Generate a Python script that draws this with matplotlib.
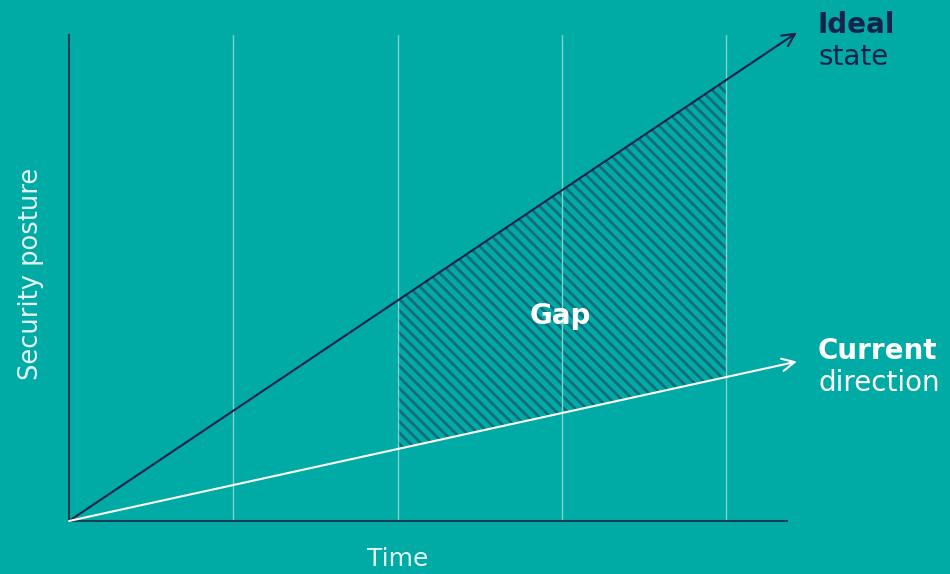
import matplotlib
matplotlib.use("Agg")
import matplotlib.pyplot as plt

plt.rcParams['font.family'] = ['DejaVu Sans']
plt.rcParams['hatch.linewidth'] = 2.0

# data
time_end = 4.43
ideal = [0, 10.05]
current = [0, 3.28]
grid_x = [1, 2, 3, 4]
gap_x = [2, 4]

bg = '#00aba5'
navy = '#15234b'
light = '#e3f4f2'
hatch_col = '#146b7b'

fig = plt.figure(figsize=(9.5, 5.74), dpi=100, facecolor=bg)
ax = fig.add_axes([69/950, 53/574, 718/950, 486/574], facecolor=bg)
ax.set_xlim(0, 4.37)
ax.set_ylim(0, 10)

ideal_slope = ideal[1] / time_end
cur_slope = current[1] / time_end

# hatched gap between the two directions
ax.fill_between(gap_x, [gap_x[0]*cur_slope, gap_x[1]*cur_slope],
                [gap_x[0]*ideal_slope, gap_x[1]*ideal_slope],
                facecolor='none', edgecolor=hatch_col, hatch=chr(92) * 3,
                linewidth=0, zorder=1)

for gx in grid_x:
    ax.axvline(gx, color='#7fd2cd', lw=1.0, zorder=2)

ax.annotate('', xy=(time_end, ideal[1]), xytext=(0, 0),
            arrowprops=dict(arrowstyle='->,head_length=0.9,head_width=0.45',
                            color=navy, lw=1.5, shrinkA=0, shrinkB=0),
            annotation_clip=False, zorder=4)
ax.annotate('', xy=(time_end, current[1]), xytext=(0, 0),
            arrowprops=dict(arrowstyle='->,head_length=0.9,head_width=0.45',
                            color='white', lw=1.5, shrinkA=0, shrinkB=0),
            annotation_clip=False, zorder=4)

for s in ['top', 'right']:
    ax.spines[s].set_visible(False)
for s in ['left', 'bottom']:
    ax.spines[s].set_color('#1c3d52')
    ax.spines[s].set_linewidth(1.5)
ax.set_xticks([])
ax.set_yticks([])

fig.text(818/950, 1 - 25/574, 'Ideal', color=navy, fontsize=20,
         fontweight='bold', va='center', ha='left')
fig.text(818/950, 1 - 57/574, 'state', color=navy, fontsize=20,
         va='center', ha='left')
fig.text(818/950, 1 - 351/574, 'Current', color='white', fontsize=20,
         fontweight='bold', va='center', ha='left')
fig.text(818/950, 1 - 383/574, 'direction', color='white', fontsize=20,
         va='center', ha='left')
fig.text(560/950, 1 - 316/574, 'Gap', color='white', fontsize=20,
         fontweight='bold', va='center', ha='center')

fig.text(398/950, 1 - 559/574, 'Time', color=light, fontsize=18,
         va='center', ha='center')
fig.text(31/950, 1 - 274/574, 'Security posture', color=light, fontsize=18.5,
         va='center', ha='center', rotation=90)

fig.savefig('out.png', dpi=100, facecolor=bg)
